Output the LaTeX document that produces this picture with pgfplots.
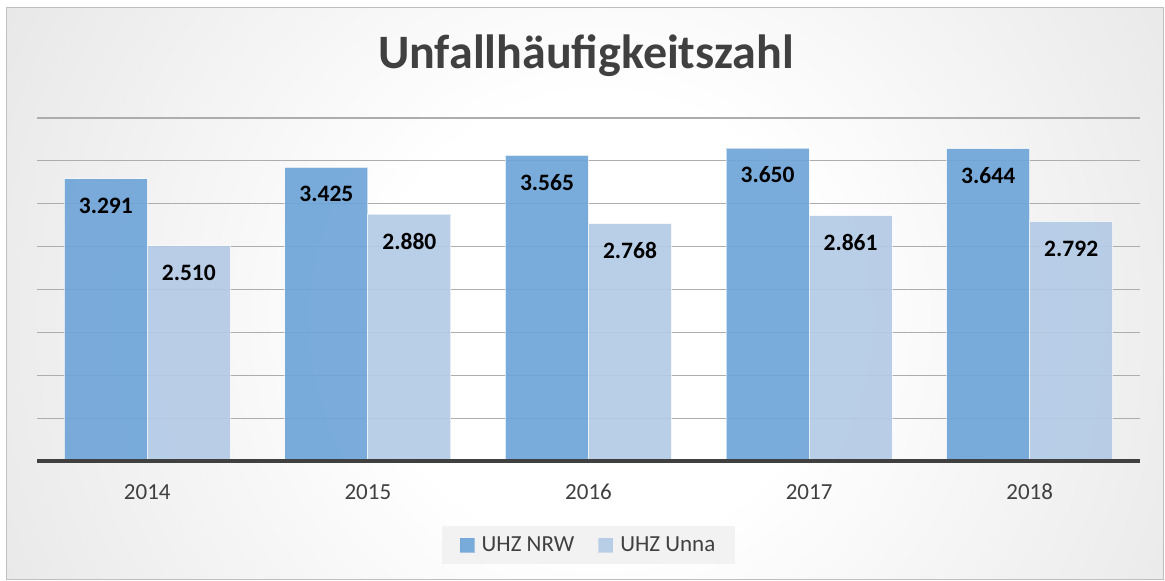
\documentclass[border=0pt]{standalone}
\usepackage{fontspec}
\setmainfont{Carlito}
\usepackage{pgfplots}
\pgfplotsset{compat=1.18}
\definecolor{nrwBlue}{HTML}{6FA5D8}
\definecolor{unnaBlue}{HTML}{B4CAE6}
\definecolor{txtGray}{HTML}{404040}
\pgfdeclareradialshading{bgshade}{\pgfpoint{0bp}{0bp}}{color(0bp)=(white); color(8bp)=(white); color(45bp)=(black!21); color(75bp)=(black!21)}

\begin{document}
\begin{tikzpicture}
\fill[white] (0pt,0pt) rectangle (1165pt,-581pt);
\begin{scope}
\clip (6pt,-7pt) rectangle (1163pt,-579pt);
\shade[shading=bgshade] (-100pt,-1020pt) rectangle (1300pt,380pt);
\end{scope}
\draw[black!25, line width=0.8pt] (6pt,-7pt) rectangle (1163pt,-579pt);
\node[font=\fontsize{48}{56}\selectfont\bfseries, text=txtGray, anchor=base] at (586pt,-68pt) {Unfallhäufigkeitszahl};
\begin{axis}[
  at={(37pt,-461pt)}, anchor=south west,
  width=1103pt, height=343pt, scale only axis,
  xmin=-0.5, xmax=4.5, ymin=0, ymax=4,
  xtick={0,1,2,3,4}, xticklabels={2014,2015,2016,2017,2018},
  ytick={0.5,1,1.5,2,2.5,3,3.5,4}, yticklabels={},
  ymajorgrids, grid style={black!32, line width=1.2pt},
  axis x line*=bottom, axis y line*=left,
  y axis line style={draw=none}, x axis line style={draw=none},
  major tick length=0pt, tick style={draw=none},
  xticklabel style={font=\fontsize{23}{27}\selectfont, text=txtGray, anchor=center, yshift=-31pt},
  clip=false,
  legend columns=2,
  legend style={at={(0.5,-0.2449)}, anchor=center, fill=black!5, draw=none,
    text=txtGray, font=\fontsize{23}{27}\selectfont, inner xsep=18pt, inner ysep=9pt,
    /tikz/every odd column/.append style={column sep=5pt},
    /tikz/every even column/.append style={column sep=22pt}},
  nodes near coords={\bfseries\pgfmathprintnumber[fixed,fixed zerofill,precision=3,assume math mode=true]{\pgfplotspointmeta}},
  every node near coord/.append style={font=\fontsize{23.5}{27}\selectfont\bfseries, text=black, anchor=center, yshift=-27pt, fill opacity=1, text opacity=1},
]
\addplot[ybar, bar width=83pt, bar shift=-41.5pt, fill=nrwBlue, fill opacity=0.92, draw=white, draw opacity=0.6, line width=1pt,
  every node near coord/.append style={xshift=-41.5pt},
  legend image code/.code={\fill[nrwBlue] (0pt,-7pt) rectangle (14pt,7pt);}]
  coordinates {(0,3.291) (1,3.425) (2,3.565) (3,3.650) (4,3.644)};
\addlegendentry{UHZ NRW}
\addplot[ybar, bar width=83pt, bar shift=41.5pt, fill=unnaBlue, fill opacity=0.92, draw=white, draw opacity=0.6, line width=1pt,
  every node near coord/.append style={xshift=41.5pt},
  legend image code/.code={\fill[unnaBlue] (0pt,-7pt) rectangle (14pt,7pt);}]
  coordinates {(0,2.510) (1,2.880) (2,2.768) (3,2.861) (4,2.792)};
\addlegendentry{UHZ Unna}
\draw[txtGray, line width=4pt] (axis cs:-0.5,0) -- (axis cs:4.5,0);
\end{axis}
\end{tikzpicture}
\end{document}
